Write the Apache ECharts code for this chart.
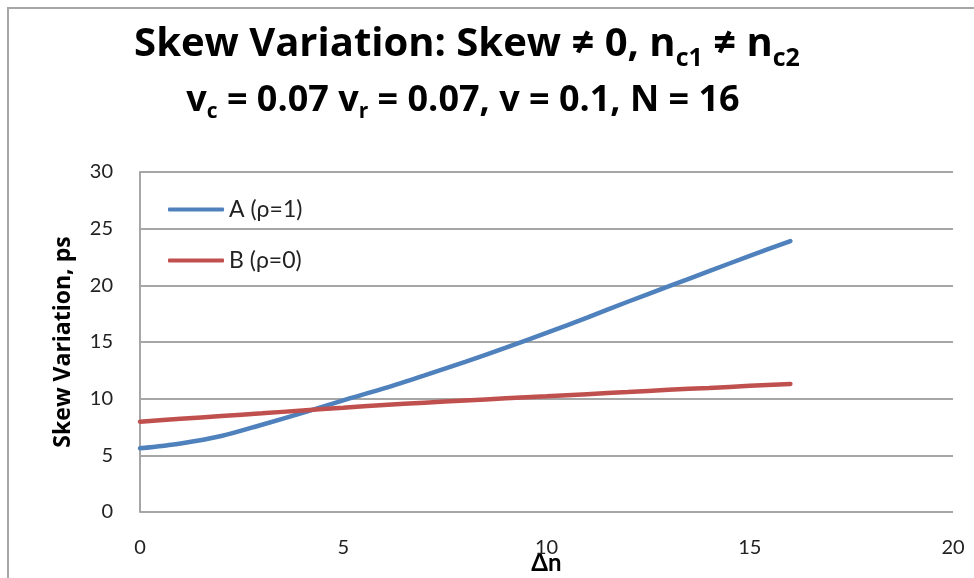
<!DOCTYPE html>
<html>
<head>
<meta charset="utf-8">
<script src="https://cdn.jsdelivr.net/npm/echarts@6/dist/echarts.min.js"></script>
<style>
  html, body { margin: 0; padding: 0; background: #fff; }
  #chart { width: 974px; height: 578px; }
</style>
</head>
<body>
<div id="chart"></div>
<script>
// Δn values (x) and the two series
const deltaN = [0, 1, 2, 3, 4, 5, 6, 7, 8, 9, 10, 11, 12, 13, 14, 15, 16];
const seriesA = [5.62, 6.05, 6.7, 7.7, 8.75, 9.85, 10.9, 12.05, 13.25, 14.5, 15.8, 17.15, 18.55, 19.9, 21.25, 22.6, 23.9];
const seriesB = [7.97, 8.22, 8.47, 8.71, 8.96, 9.2, 9.45, 9.65, 9.84, 10.03, 10.21, 10.4, 10.59, 10.78, 10.95, 11.13, 11.3];
const seriesNames = ['A (ρ=1)', 'B (ρ=0)'];
const xTicks = { min: 0, max: 20, step: 5 };
const yTicks = { min: 0, max: 30, step: 5 };

const FONT = 'Lato';
const TITLE_FONT = 'Open Sans';
const GRID_GREY = '#a6a6a6';

const chart = echarts.init(document.getElementById('chart'));

const toPairs = (xs, ys) => xs.map((x, i) => [x, ys[i]]);

const option = {
  backgroundColor: '#fff',
  animation: false,
  textStyle: { fontFamily: FONT },
  title: [
    {
      text: 'Skew Variation: Skew ≠ 0, n{sub|c1} ≠ n{sub|c2}',
      left: 462,
      top: 14,
      textAlign: 'center',
      textStyle: {
        fontFamily: TITLE_FONT,
        fontSize: 40,
        fontWeight: 'bold',
        color: '#000',
        lineHeight: 52,
        rich: {
          sub: { fontFamily: TITLE_FONT, fontSize: 25, fontWeight: 'bold', color: '#000', verticalAlign: 'bottom', lineHeight: 25 }
        }
      }
    },
    {
      text: 'v{sub|c} = 0.07 v{sub|r} = 0.07, v = 0.1, N = 16',
      left: 458,
      top: 73,
      textAlign: 'center',
      textStyle: {
        fontFamily: TITLE_FONT,
        fontSize: 36,
        fontWeight: 'bold',
        color: '#000',
        lineHeight: 45,
        rich: {
          sub: { fontFamily: TITLE_FONT, fontSize: 21, fontWeight: 'bold', color: '#000', verticalAlign: 'bottom', lineHeight: 21 }
        }
      }
    }
  ],
  legend: {
    orient: 'vertical',
    left: 168,
    top: 198,
    padding: 0,
    icon: 'roundRect',
    itemWidth: 56,
    itemHeight: 4,
    itemGap: 28,
    data: seriesNames,
    textStyle: { fontFamily: FONT, fontSize: 23, color: '#222', lineHeight: 20 }
  },
  grid: { left: 140, top: 172, right: 21, bottom: 66, outerBoundsMode: 'none' },
  xAxis: {
    type: 'value',
    min: xTicks.min,
    max: xTicks.max,
    interval: xTicks.step,
    name: 'Δn',
    nameLocation: 'middle',
    nameGap: 39,
    nameMoveOverlap: false,
    nameTextStyle: { fontFamily: FONT, fontSize: 24, fontWeight: 'bold', color: '#000' },
    axisLine: { show: false },
    axisTick: { show: false },
    splitLine: { show: false },
    axisLabel: { fontFamily: FONT, fontSize: 20, color: '#222', margin: 26 }
  },
  yAxis: {
    type: 'value',
    min: yTicks.min,
    max: yTicks.max,
    interval: yTicks.step,
    name: 'Skew Variation, ps',
    nameLocation: 'middle',
    nameGap: 65,
    nameMoveOverlap: false,
    nameTextStyle: { fontFamily: TITLE_FONT, fontSize: 23, fontWeight: 'bold', color: '#000' },
    axisLine: { show: true, lineStyle: { color: GRID_GREY, width: 2 } },
    axisTick: { show: false },
    splitLine: { show: true, lineStyle: { color: GRID_GREY, width: 2 } },
    axisLabel: { fontFamily: FONT, fontSize: 20, color: '#222', margin: 27 }
  },
  series: [
    {
      name: seriesNames[0],
      type: 'line',
      data: toPairs(deltaN, seriesA),
      smooth: 0.3,
      symbol: 'none',
      lineStyle: { color: '#4F81BD', width: 4.5, cap: 'round' },
      itemStyle: { color: '#4F81BD' }
    },
    {
      name: seriesNames[1],
      type: 'line',
      data: toPairs(deltaN, seriesB),
      smooth: 0.3,
      symbol: 'none',
      lineStyle: { color: '#C0504D', width: 4.5, cap: 'round' },
      itemStyle: { color: '#C0504D' }
    }
  ],
  graphic: [
    {
      // outer chart frame, only top and left edges fall inside the picture
      type: 'polyline',
      silent: true,
      shape: { points: [[8, 600], [8, 8], [1000, 8]] },
      style: { stroke: GRID_GREY, lineWidth: 2, fill: null }
    }
  ]
};

chart.setOption(option);
</script>
</body>
</html>
